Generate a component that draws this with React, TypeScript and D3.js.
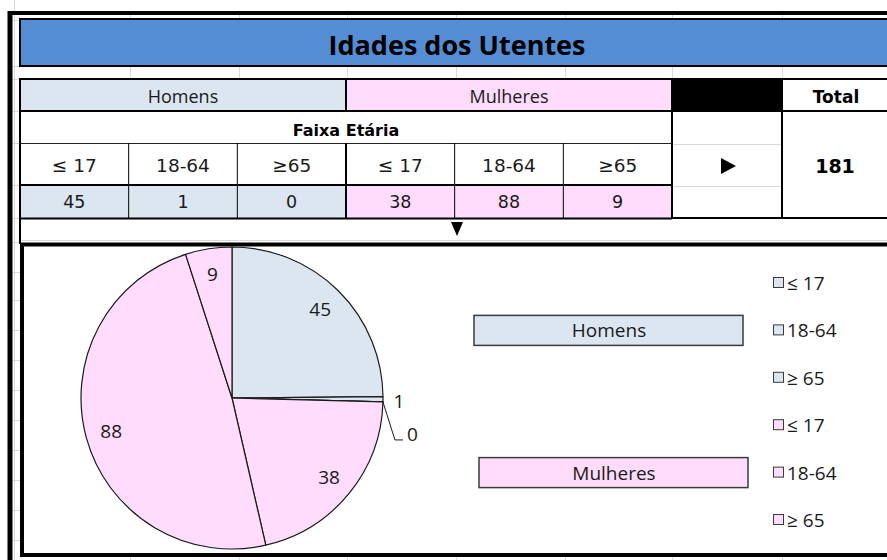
import React from 'react';
import * as d3 from 'd3';

// table + pie values
const groups = ['Homens', 'Mulheres'];
const ageBands = ['≤ 17', '18-64', '≥65'];
const legendBands = ['≤ 17', '18-64', '≥ 65'];
const homensValues = [45, 1, 0];
const mulheresValues = [38, 88, 9];
const groupColors = ['#dce6f1', '#ffdcfb'];
const title = 'Idades dos Utentes';
const faixaLabel = 'Faixa Etária';
const totalLabel = 'Total';

const W = 887;
const H = 560;
const calibri = '"Open Sans", "Noto Sans", sans-serif';
const verdana = '"DejaVu Sans", Verdana, sans-serif';

const App = () => {
  const allValues = [...homensValues, ...mulheresValues];
  const total = d3.sum(allValues);
  const slices = groups.flatMap((g, gi) =>
    (gi === 0 ? homensValues : mulheresValues).map((v, bi) => ({
      group: g, gi, band: legendBands[bi], value: v,
    }))
  );

  // table columns
  const colX = d3.scaleBand<number>().domain(d3.range(6)).range([20, 672]);
  const cw = colX.bandwidth();

  // pie
  const cx = 232, cy = 398, R = 151;
  const pie = d3.pie<any>().sort(null).value(d => d.value);
  const arcs = pie(slices);
  const arc = d3.arc<any>().innerRadius(0).outerRadius(R);
  const labelArc = d3.arc<any>().innerRadius(R * 0.83).outerRadius(R * 0.83);
  const edgeArc = d3.arc<any>().innerRadius(R).outerRadius(R);

  const legendY = d3.scalePoint<number>().domain(d3.range(6)).range([283, 520]);

  const gridX = [130, 239, 347, 456, 565, 672, 782];
  const marginRows = [20, 66, 79, 111, 143, 185, 218, 242, 272, 300, 330, 360, 390, 420, 450, 480, 510, 540];

  let smallIdx = 0;

  return (
    <svg width={W} height={H} style={{ position: 'absolute', left: 0, top: 0, background: '#fff' }}>
      {/* spreadsheet gridlines */}
      <line x1={14.5} x2={14.5} y1={0} y2={H} stroke="#d9d9d9" />
      {marginRows.map(y => (
        <line key={'mr' + y} x1={12} x2={20} y1={y + 0.5} y2={y + 0.5} stroke="#d9d9d9" />
      ))}
      {gridX.map(x => (
        <g key={'gx' + x}>
          <line x1={x + 0.5} x2={x + 0.5} y1={15} y2={19} stroke="#d9d9d9" />
          <line x1={x + 0.5} x2={x + 0.5} y1={66} y2={79} stroke="#d9d9d9" />
          <line x1={x + 0.5} x2={x + 0.5} y1={557} y2={H} stroke="#d9d9d9" />
        </g>
      ))}
      <line x1={20} x2={W} y1={240.5} y2={240.5} stroke="#d9d9d9" />

      {/* outer frame */}
      <line x1={10} x2={10} y1={11} y2={H} stroke="#000" strokeWidth={5} />
      <line x1={8} x2={W} y1={13} y2={13} stroke="#000" strokeWidth={4} />

      {/* title */}
      <rect x={20} y={19} width={W} height={47} fill="#548dd4" stroke="#000" strokeWidth={2} />
      <text x={457} y={44} textAnchor="middle" dominantBaseline="central"
        fontFamily={calibri} fontWeight="bold" fontSize={27} fill="#000">{title}</text>

      {/* group header row */}
      {groups.map((g, gi) => (
        <g key={g}>
          <rect x={colX(gi * 3)} y={79} width={cw * 3} height={32} fill={groupColors[gi]} stroke="#000" strokeWidth={2} />
          <text x={(colX(gi * 3) as number) + cw * 1.5} y={96} textAnchor="middle" dominantBaseline="central"
            fontFamily={calibri} fontSize={18} fill="#1a1a1a">{g}</text>
        </g>
      ))}
      <rect x={672} y={79} width={110} height={32} fill="#000" stroke="#000" strokeWidth={2} />
      <rect x={782} y={79} width={W} height={32} fill="#fff" stroke="#000" strokeWidth={2} />
      <text x={836} y={97} textAnchor="middle" dominantBaseline="central"
        fontFamily={verdana} fontWeight="bold" fontSize={17} fill="#000">{totalLabel}</text>

      {/* faixa etaria */}
      <rect x={20} y={111} width={652} height={107} fill="#fff" stroke="#000" strokeWidth={2} />
      <text x={346} y={130} textAnchor="middle" dominantBaseline="central"
        fontFamily={verdana} fontWeight="bold" fontSize={16} fill="#000">{faixaLabel}</text>
      <line x1={20} x2={672} y1={143.5} y2={143.5} stroke="#222" strokeWidth={1} />

      {/* age labels + values */}
      {d3.range(6).map(i => {
        const gi = Math.floor(i / 3);
        const bi = i % 3;
        const x0 = colX(i) as number;
        const v = (gi === 0 ? homensValues : mulheresValues)[bi];
        return (
          <g key={'c' + i}>
            <rect x={x0} y={185} width={cw} height={33} fill={groupColors[gi]} />
            <text x={x0 + cw / 2} y={165} textAnchor="middle" dominantBaseline="central"
              fontFamily={verdana} fontSize={18.5} fill="#1a1a1a">{ageBands[bi]}</text>
            <text x={x0 + cw / 2} y={202} textAnchor="middle" dominantBaseline="central"
              fontFamily={verdana} fontSize={17.5} fill="#1a1a1a">{v}</text>
            {i > 0 && (
              <line x1={x0} x2={x0} y1={143} y2={218} stroke="#000" strokeWidth={i === 3 ? 2 : 1} />
            )}
          </g>
        );
      })}
      <line x1={20} x2={672} y1={185} y2={185} stroke="#000" strokeWidth={2} />
      <line x1={20} x2={672} y1={218.5} y2={218.5} stroke="#000" strokeWidth={2} />
      <line x1={20} x2={20} y1={111} y2={218} stroke="#000" strokeWidth={2} />

      {/* arrow cell */}
      <rect x={672} y={111} width={110} height={107} fill="#fff" stroke="#000" strokeWidth={2} />
      <line x1={673} x2={781} y1={144.5} y2={144.5} stroke="#d9d9d9" />
      <line x1={673} x2={781} y1={186.5} y2={186.5} stroke="#d9d9d9" />
      <path d="M721,158 L736,166 L721,174 Z" fill="#000" />

      {/* total cell */}
      <rect x={782} y={111} width={W} height={107} fill="#fff" stroke="#000" strokeWidth={2} />
      <text x={835} y={166} textAnchor="middle" dominantBaseline="central"
        fontFamily={verdana} fontWeight="bold" fontSize={19} fill="#000">{total}</text>

      {/* spacer row */}
      <line x1={20} x2={20} y1={218} y2={244} stroke="#000" strokeWidth={2} />
      <path d="M451,222 L463,222 L457,236 Z" fill="#000" />

      {/* chart area frame */}
      <rect x={22} y={244.5} width={W} height={310.5} fill="#fff" stroke="#000" strokeWidth={4} />

      {/* pie */}
      <g transform={`translate(${cx},${cy})`}>
        {arcs.map((a, i) => (
          <path key={'s' + i} d={arc(a) as string} fill={groupColors[a.data.gi]}
            stroke="#1a1a1a" strokeWidth={1.2} strokeLinejoin="round" />
        ))}
        {arcs.map((a, i) => {
          if (a.data.value >= 3) {
            const [lx, ly] = labelArc.centroid(a);
            return (
              <text key={'l' + i} x={lx} y={ly} textAnchor="middle" dominantBaseline="central"
                fontFamily={calibri} fontSize={19} fill="#1a1a1a">{a.data.value}</text>
            );
          }
          const [ex, ey] = edgeArc.centroid(a);
          const k = smallIdx++;
          if (k === 0) {
            return (
              <text key={'l' + i} x={ex + 16} y={ey + 2} textAnchor="middle" dominantBaseline="central"
                fontFamily={calibri} fontSize={19} fill="#1a1a1a">{a.data.value}</text>
            );
          }
          return (
            <g key={'l' + i}>
              <polyline points={`${ex},${ey} ${ex + 12},${ey + 38} ${ex + 20},${ey + 38}`}
                fill="none" stroke="#1a1a1a" strokeWidth={1} />
              <text x={ex + 24} y={ey + 32} textAnchor="start" dominantBaseline="central"
                fontFamily={calibri} fontSize={19} fill="#1a1a1a">{a.data.value}</text>
            </g>
          );
        })}
      </g>

      {/* group boxes */}
      {groups.map((g, gi) => {
        const yc = legendY(gi * 3 + 1) as number;
        const bx = gi === 0 ? 474 : 479;
        return (
          <g key={'gb' + g}>
            <rect x={bx} y={yc - 15} width={269} height={30} fill={groupColors[gi]} stroke="#3a3a3a" strokeWidth={1.5} />
            <text x={bx + 135} y={yc} textAnchor="middle" dominantBaseline="central"
              fontFamily={calibri} fontSize={19} fill="#1a1a1a">{g}</text>
          </g>
        );
      })}

      {/* legend */}
      {slices.map((s, i) => {
        const y = legendY(i) as number;
        return (
          <g key={'lg' + i}>
            <rect x={773.5} y={y - 5.5} width={10} height={10} fill={groupColors[s.gi]} stroke="#3a3a3a" strokeWidth={1} />
            <text x={787} y={y} dominantBaseline="central" fontFamily={calibri} fontSize={19} fill="#1a1a1a">{s.band}</text>
          </g>
        );
      })}
    </svg>
  );
};

export default App;
